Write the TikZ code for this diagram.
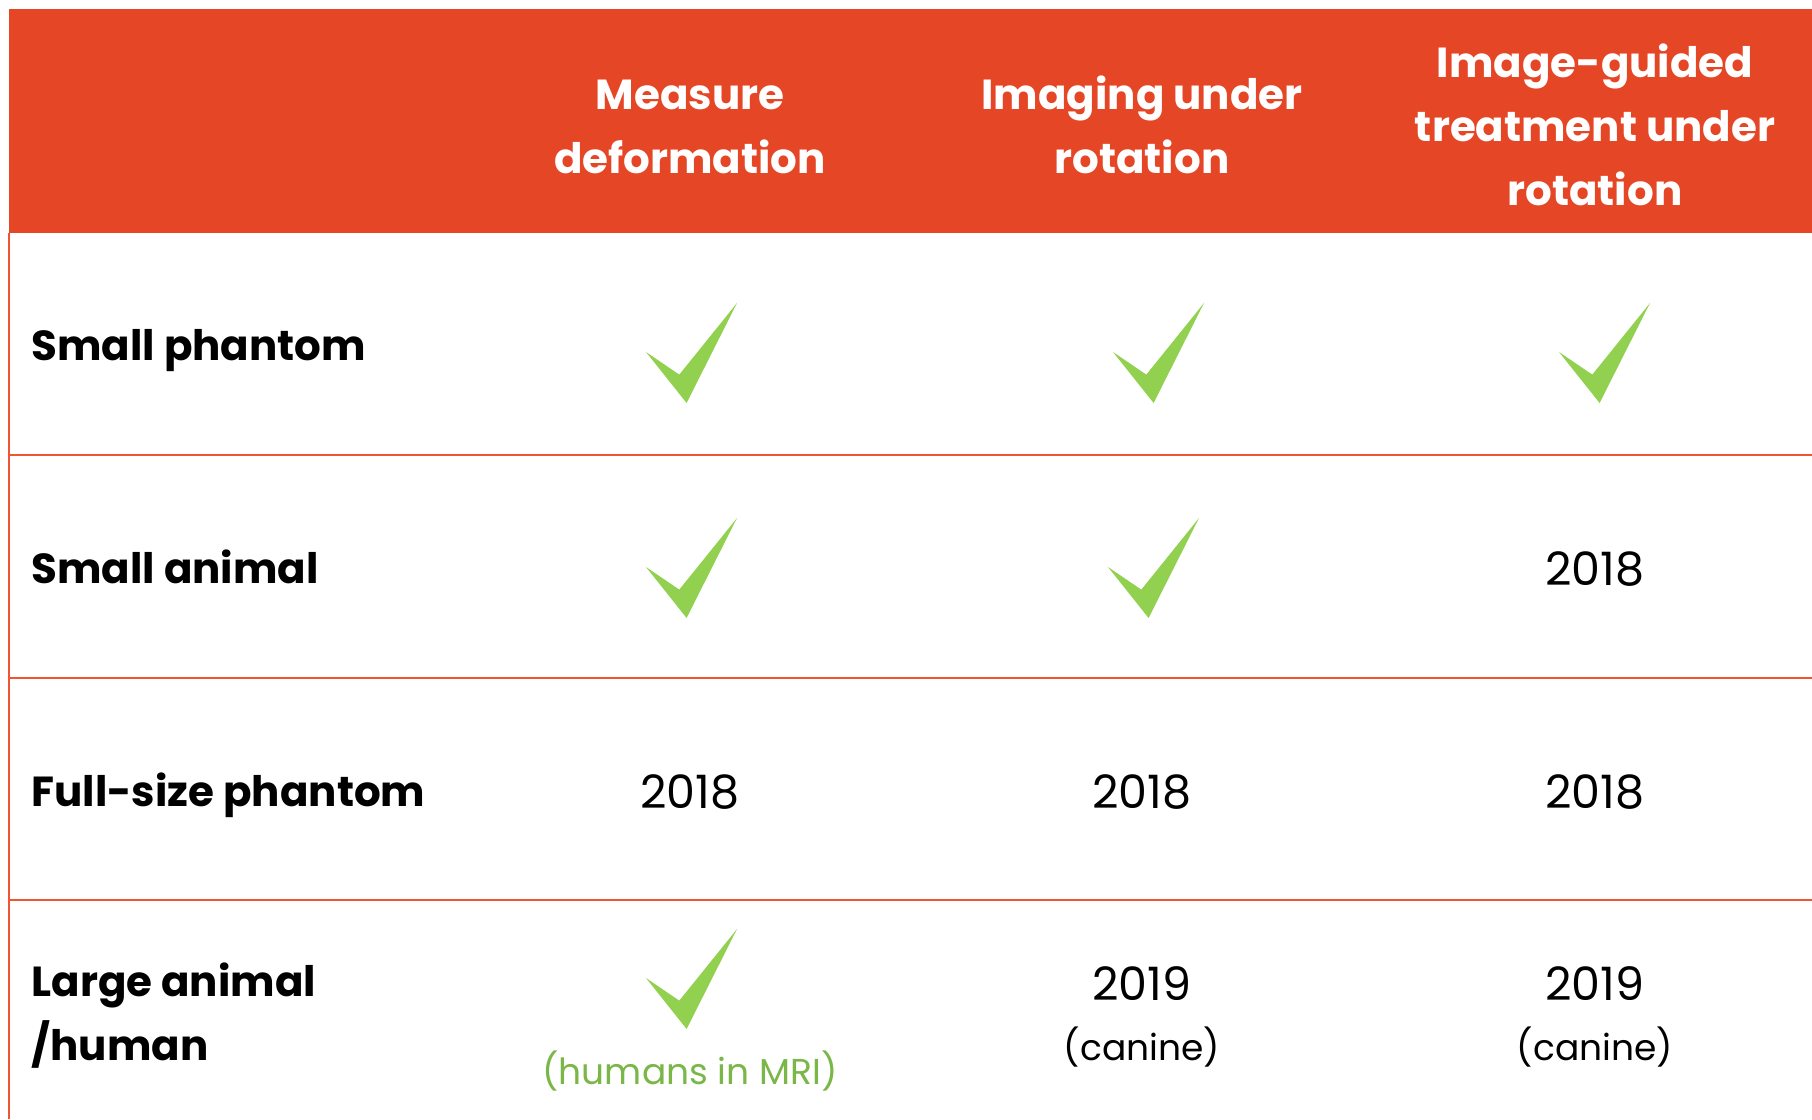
\documentclass[tikz,border=0pt]{standalone}
\usepackage{fontspec}
\setmainfont{Poppins}
\definecolor{hdred}{HTML}{E54626}
\definecolor{rulered}{HTML}{F0552F}
\definecolor{tickgreen}{HTML}{92D050}
\definecolor{notegreen}{HTML}{7AB648}

\tikzstyle{head} = [align=center,anchor=base,text=white,font=\fontsize{42}{64}\selectfont\bfseries]
\tikzstyle{rowlabel} = [align=left,anchor=base west,font=\fontsize{42}{64}\selectfont\bfseries]
\tikzstyle{year} = [align=center,anchor=base,font=\fontsize{46}{60}\selectfont]
\tikzstyle{grid} = [draw=rulered,line width=2.5]
\tikzset{tick/.pic={\fill[tickgreen] (0,0) -- (40.6,51) -- (91,-49) -- (33.3,22.6) -- cycle;}}
\newcommand{\canine}{\fontsize{36}{60}\selectfont(canine)}

\begin{document}
\begin{tikzpicture}[x=1pt,y=-1pt]
	\useasboundingbox (0,0) rectangle (1812,1119);
	% header
	\fill[hdred] (9,9) rectangle (1812,233);
	\node (hmeasure) [head] at (690,173) {Measure\\deformation};
	\node (himaging) [head] at (1142,173) {Imaging under\\rotation};
	\node (htreat) [head] at (1595,205) {Image-guided\\treatment under\\rotation};
	% grid
	\draw [grid] (9,233) -- (9,1119);
	\draw [grid] (9,455) -- (1812,455);
	\draw [grid] (9,678) -- (1812,678);
	\draw [grid] (9,900) -- (1812,900);
	% row labels
	\node (rsmallph) [rowlabel] at (28,360) {Small phantom};
	\node (rsmallan) [rowlabel] at (28,583) {Small animal};
	\node (rfullph) [rowlabel] at (28,806) {Full-size phantom};
	\node (rlarge) [rowlabel] at (28,1060) {Large animal\\/human};
	% cells
	\pic at (646,352) {tick};
	\pic at (1113,352) {tick};
	\pic at (1559,352) {tick};
	\pic at (646,567) {tick};
	\pic at (1108,567) {tick};
	\node (y23) [year] at (1595,585) {2018};
	\node (y31) [year] at (690,808) {2018};
	\node (y32) [year] at (1142,808) {2018};
	\node (y33) [year] at (1595,808) {2018};
	\pic at (646,978) {tick};
	\node (note41) [year,text=notegreen,font=\fontsize{36}{60}\selectfont] at (690,1084) {(humans in MRI)};
	\node (y42) [year] at (1142,1060) {2019\\\canine};
	\node (y43) [year] at (1595,1060) {2019\\\canine};
\end{tikzpicture}
\end{document}
